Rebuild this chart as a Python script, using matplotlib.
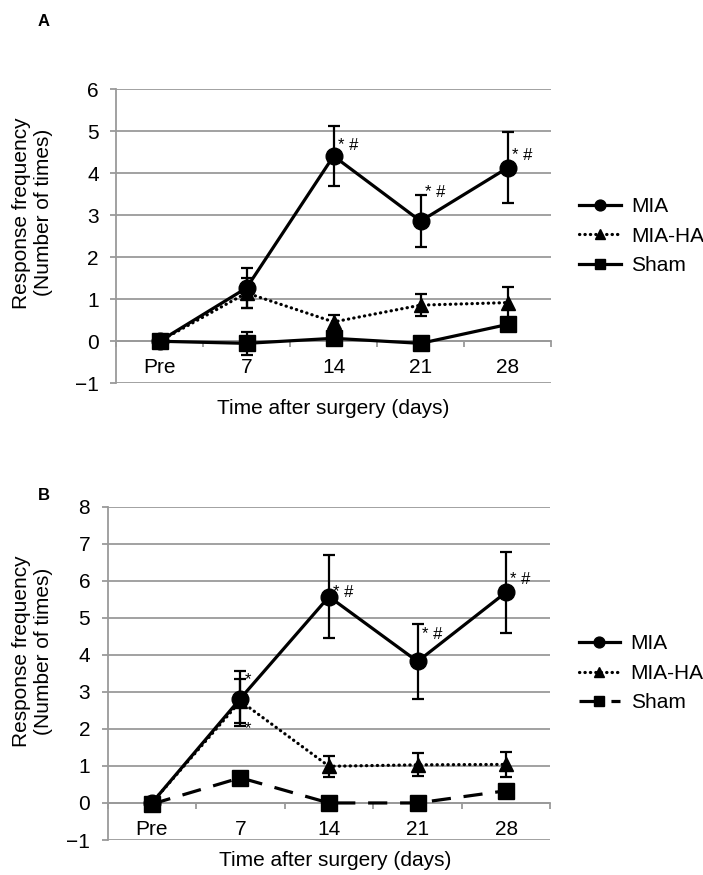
import matplotlib.pyplot as plt

plt.rcParams['font.family'] = ['Liberation Sans', 'DejaVu Sans']

days = ["Pre", "7", "14", "21", "28"]
groups = ["MIA", "MIA-HA", "Sham"]

# panel A
a_mia = [0, 1.27, 4.41, 2.86, 4.13]
a_mia_err = [0, 0.48, 0.72, 0.62, 0.85]
a_miaha = [0, 1.15, 0.46, 0.86, 0.92]
a_miaha_err = [0, 0.35, 0.17, 0.26, 0.36]
a_sham = [0, -0.05, 0.07, -0.05, 0.40]
a_sham_err = [0, 0.28, 0.10, 0.05, 0.15]

# panel B
b_mia = [0, 2.82, 5.57, 3.82, 5.69]
b_mia_err = [0, 0.74, 1.13, 1.0, 1.09]
b_miaha = [0, 2.75, 0.99, 1.03, 1.04]
b_miaha_err = [0, 0.60, 0.28, 0.31, 0.34]
b_sham = [-0.03, 0.68, 0.0, 0.0, 0.33]
b_sham_err = [0, 0.15, 0.05, 0.05, 0.05]

# significance marks: (day index, text, from which series, offset in points)
a_marks = [(2, "* #", "mia", (3, -14)), (3, "* #", "mia", (3, 2)), (4, "* #", "mia", (3, -17))]
b_marks = [(1, "*", "mia", (3, -6)), (1, "*", "miaha_low", (3, -4)),
           (2, "* #", "mia", (3, -27)), (3, "* #", "mia", (3, -7)), (4, "* #", "mia", (3, -20))]

GRID = "#9a9a9a"


def draw_panel(ax, mia, mia_err, miaha, miaha_err, sham, sham_err, ytop, sham_dash, marks):
    x = range(len(days))
    ax.plot(x, mia, color="black", lw=2.3, marker="o", ms=12, label=groups[0], zorder=6)
    ax.errorbar(x, mia, yerr=mia_err, fmt="none", ecolor="black", elinewidth=1.6,
                capsize=4, capthick=1.6, zorder=6)
    ax.plot(x, miaha, color="black", lw=2.3, ls=(0, (0.1, 1.6)), dash_capstyle="round",
            marker="^", ms=10, label=groups[1], zorder=4)
    ax.errorbar(x, miaha, yerr=miaha_err, fmt="none", ecolor="black", elinewidth=1.6,
                capsize=4, capthick=1.6, zorder=4)
    ls = (0, (6, 4)) if sham_dash else "-"
    ax.plot(x, sham, color="black", lw=2.3, ls=ls, marker="s", ms=11, label=groups[2], zorder=5)
    ax.errorbar(x, sham, yerr=sham_err, fmt="none", ecolor="black", elinewidth=1.6,
                capsize=4, capthick=1.6, zorder=5)

    for i, txt, src, off in marks:
        if src == "mia":
            y = mia[i] + mia_err[i]
        else:
            y = miaha[i] - miaha_err[i]
        ax.annotate(txt, xy=(i, y), xytext=off, textcoords="offset points",
                    fontsize=12, ha="left", va="center")

    ax.set_xlim(-0.5, 4.5)
    ax.set_ylim(-1, ytop)
    ax.set_yticks(range(-1, ytop + 1))
    ax.yaxis.grid(True, color=GRID, lw=1.3)
    ax.set_axisbelow(True)
    for s in ["top", "right"]:
        ax.spines[s].set_visible(False)
    ax.spines["left"].set_color(GRID)
    ax.spines["left"].set_linewidth(1.3)
    ax.spines["bottom"].set_position(("data", 0))
    ax.spines["bottom"].set_color(GRID)
    ax.spines["bottom"].set_linewidth(1.3)

    ax.set_xticks(list(x))
    ax.set_xticklabels(days)
    ax.set_xticks([i - 0.5 for i in range(len(days) + 1)], minor=True)
    ax.tick_params(axis="x", which="major", length=0, pad=12, labelsize=15)
    ax.tick_params(axis="x", which="minor", length=4, width=1.3, color=GRID, direction="out")
    ax.tick_params(axis="y", length=4.5, width=1.3, color=GRID, pad=8, labelsize=15)

    ax.set_ylabel("Response frequency\n(Number of times)", fontsize=15, linespacing=1.2)
    ax.set_xlabel("Time after surgery (days)", fontsize=15)
    ax.legend(loc="center left", bbox_to_anchor=(1.04, 0.5), frameon=False, fontsize=15,
              handlelength=2.0, handletextpad=0.5, markerscale=0.65, borderpad=0)


fig = plt.figure(figsize=(7.03, 8.75), dpi=100)
ax_a = fig.add_axes([0.165, 0.562, 0.619, 0.336])
ax_b = fig.add_axes([0.153, 0.040, 0.630, 0.381])

draw_panel(ax_a, a_mia, a_mia_err, a_miaha, a_miaha_err, a_sham, a_sham_err, 6, False, a_marks)
draw_panel(ax_b, b_mia, b_mia_err, b_miaha, b_miaha_err, b_sham, b_sham_err, 8, True, b_marks)

ax_a.yaxis.set_label_coords(-0.145, 0.58)
ax_a.xaxis.set_label_coords(0.5, -0.054)
ax_b.yaxis.set_label_coords(-0.123, 0.565)
ax_b.xaxis.set_label_coords(0.513, -0.033)

fig.text(38 / 703, 1 - 22 / 875, "A", fontsize=12, fontweight="bold", ha="left", va="center")
fig.text(38 / 703, 1 - 495 / 875, "B", fontsize=12, fontweight="bold", ha="left", va="center")

fig.savefig("out.png", dpi=100)
